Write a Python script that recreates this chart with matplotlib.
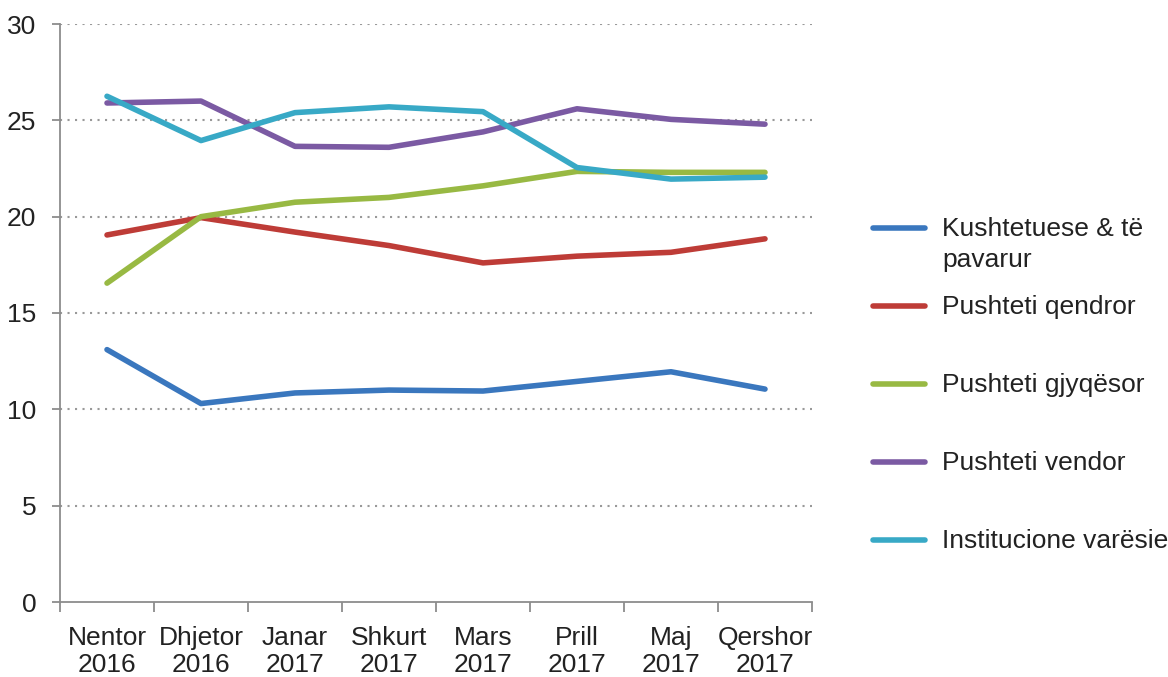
import matplotlib
matplotlib.use("Agg")
import matplotlib.pyplot as plt
from matplotlib.lines import Line2D

months = ["Nentor\n2016", "Dhjetor\n2016", "Janar\n2017", "Shkurt\n2017",
          "Mars\n2017", "Prill\n2017", "Maj\n2017", "Qershor\n2017"]

kushtetuese = [13.1, 10.3, 10.85, 11.0, 10.95, 11.45, 11.95, 11.05]
qendror = [19.05, 19.95, 19.2, 18.5, 17.6, 17.95, 18.15, 18.85]
gjyqesor = [16.55, 20.0, 20.75, 21.0, 21.6, 22.35, 22.3, 22.3]
vendor = [25.9, 26.0, 23.65, 23.6, 24.4, 25.6, 25.05, 24.8]
varesie = [26.25, 23.95, 25.4, 25.7, 25.45, 22.55, 21.95, 22.05]

labels = ["Kushtetuese & të\npavarur", "Pushteti qendror", "Pushteti gjyqësor",
          "Pushteti vendor", "Institucione varësie"]
series = [kushtetuese, qendror, gjyqesor, vendor, varesie]
colors = ["#3A77BE", "#BE3C37", "#98B943", "#7B5AA3", "#38A9C6"]

plt.rcParams["font.family"] = ["Liberation Sans", "DejaVu Sans"]
axis_grey = "#8C8C8C"
fs = 19

fig = plt.figure(figsize=(11.68, 6.77), dpi=100)
ax = fig.add_axes([60 / 1168, 1 - 602 / 677, (812 - 60) / 1168, (602 - 24) / 677])

x = list(range(len(months)))
for vals, col in zip(series, colors):
    ax.plot(x, vals, color=col, linewidth=4.0, solid_capstyle="round",
            solid_joinstyle="round", zorder=3)

ax.set_xlim(-0.5, len(months) - 0.5)
ax.set_ylim(0, 30)
ax.set_yticks(range(0, 31, 5))
for yv in range(5, 31, 5):
    ax.axhline(yv, color="#999999", linewidth=1.5, linestyle=(0, (1, 2.6)), zorder=1)

ax.set_xticks(x)
ax.set_xticklabels(months)
ax.set_xticks([i - 0.5 for i in range(len(months) + 1)], minor=True)
ax.tick_params(axis="x", which="major", length=0, pad=17, labelsize=fs, colors="#222222")
ax.tick_params(axis="x", which="minor", length=7, width=1.3, color=axis_grey)
ax.tick_params(axis="y", length=6, width=1.3, color=axis_grey, pad=11,
               labelsize=fs, labelcolor="#222222")

for side in ["top", "right"]:
    ax.spines[side].set_visible(False)
for side in ["left", "bottom"]:
    ax.spines[side].set_color(axis_grey)
    ax.spines[side].set_linewidth(1.3)

# legend drawn by hand so the wrapped first label keeps its handle on line one
W, H = 1168, 677
for i, (lab, col) in enumerate(zip(labels, colors)):
    yp = 228 + 78 * i
    fig.add_artist(Line2D([873 / W, 925 / W], [1 - yp / H, 1 - yp / H],
                          color=col, linewidth=4.0, solid_capstyle="round"))
    fig.text(942 / W, 1 - (yp - 11) / H, lab, fontsize=fs, color="#222222",
             va="top", ha="left", linespacing=1.35)

fig.savefig("out.png", dpi=100)
